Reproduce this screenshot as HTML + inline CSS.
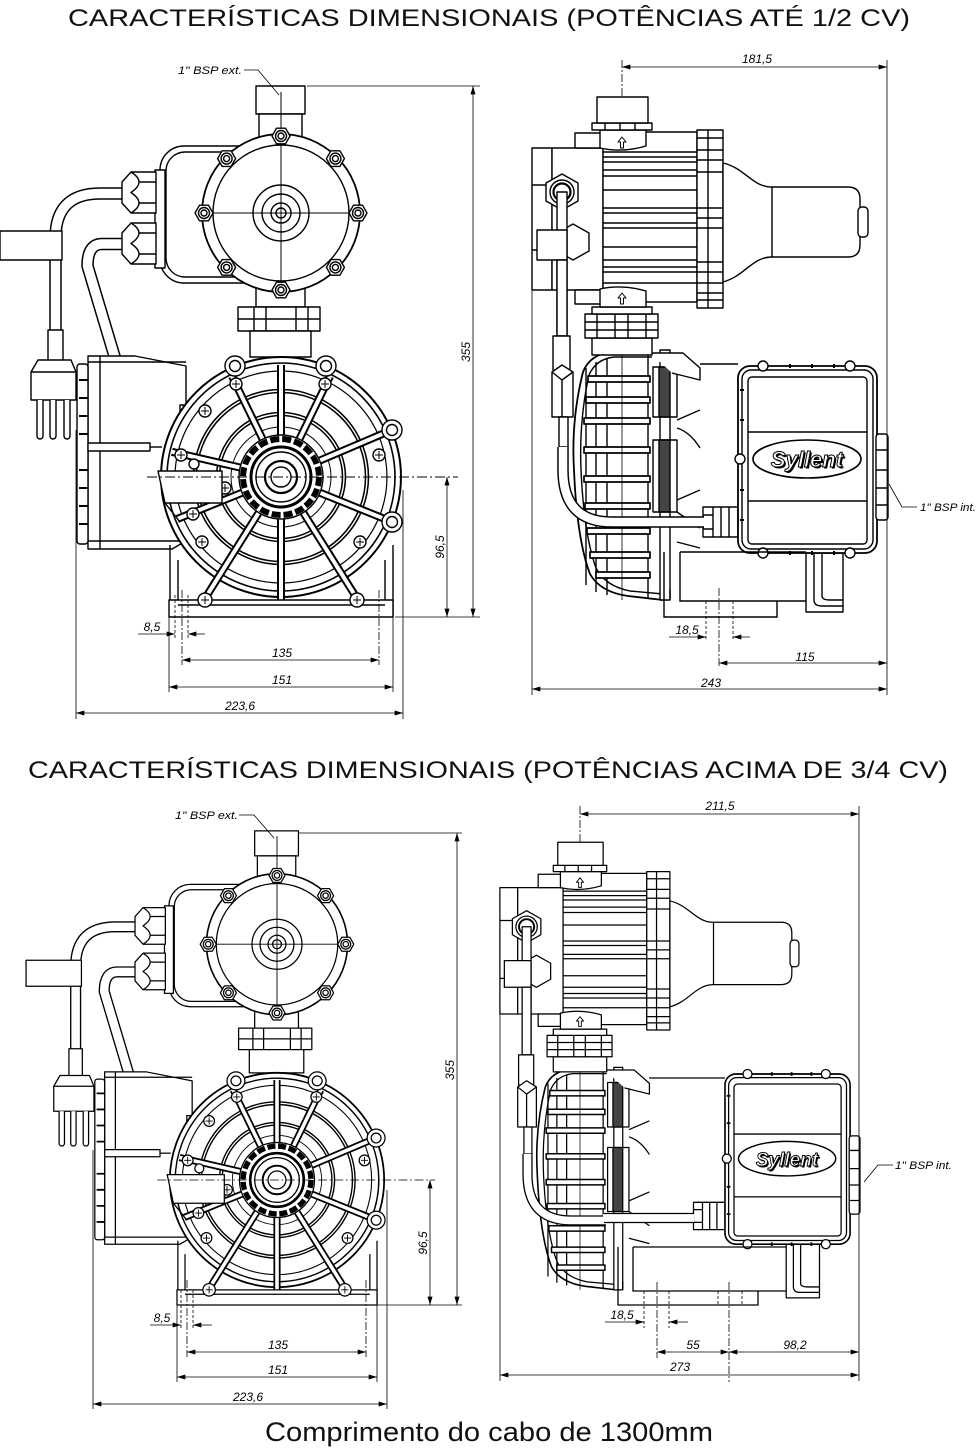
<!DOCTYPE html>
<html><head><meta charset="utf-8">
<style>
html,body{margin:0;padding:0;background:#fff;}
svg{display:block;}
text{font-family:"Liberation Sans",Arial,sans-serif;}
.d{font-size:12px;font-style:italic;fill:#000;stroke:none;}
.s{font-size:11px;font-style:italic;fill:#000;stroke:none;}
</style></head><body>
<svg width="977" height="1448" viewBox="0 0 977 1448" xmlns="http://www.w3.org/2000/svg">
<defs>
<marker id="ar" viewBox="0 0 10 6" refX="10" refY="3" markerWidth="9" markerHeight="5" markerUnits="userSpaceOnUse" orient="auto-start-reverse"><path d="M0,0L10,3L0,6z" fill="#000"/></marker>

<!-- FRONT VIEW -->
<g id="fv" fill="none" stroke="#000" stroke-width="1.4" stroke-linejoin="round">
<path d="M124,193.5H100Q55.5,193.5 55.5,238V332" stroke-width="12.5"/>
<path d="M124,193.5H100Q55.5,193.5 55.5,238V332" stroke="#fff" stroke-width="9.5"/>
<rect x="0" y="231" width="62" height="29" fill="#fff"/>
<rect x="48" y="330" width="15" height="32" fill="#fff"/>
<path d="M38,360H71L76,372V400H31V372Z" fill="#fff"/>
<path d="M31,372H76"/>
<path d="M37,400V436a3,3 0 0 0 6,0V400M50,400V436a3,3 0 0 0 6,0V400M64,400V436a3,3 0 0 0 6,0V400" fill="#fff"/>
<path d="M124,244H102Q87.5,244 87.5,266L115,358" stroke-width="12.5"/>
<path d="M124,244H102Q87.5,244 87.5,266L115,358" stroke="#fff" stroke-width="9.5"/>
<!-- head box -->
<rect x="160" y="146" width="160" height="137" rx="24" fill="#fff"/>
<rect x="166" y="152" width="150" height="125" rx="19"/>
<rect x="155" y="170" width="10" height="98" fill="#fff"/>
<!-- glands -->
<path d="M122,182L131,172H156V213H131L122,203Z" fill="#fff"/>
<path d="M131,172Q139,177 139,182Q139,187 131,192.5Q139,198 139,203Q139,208 131,213M139,182H156M139,203H156"/>
<path d="M122,233L131,223H156V264H131L122,254Z" fill="#fff"/>
<path d="M131,223Q139,228 139,233Q139,238 131,243.5Q139,249 139,254Q139,259 131,264M139,233H156M139,254H156"/>
<!-- pipe + neck -->
<rect x="256" y="86" width="49" height="28" fill="#fff"/>
<rect x="259" y="114" width="43" height="26" fill="#fff"/>
<rect x="256" y="284" width="49" height="23" fill="#fff"/>
<rect x="238" y="307" width="82" height="24" fill="#fff"/>
<path d="M238,319H320M254,307V331M266,307V331M296,307V331M308,307V331"/>
<rect x="250" y="331" width="61" height="26" fill="#fff"/>
<!-- head -->
<circle cx="281" cy="213" r="79" fill="#fff" stroke-width="1.8"/>
<circle cx="281" cy="213" r="68"/>
<circle cx="281" cy="213" r="28"/>
<circle cx="281" cy="213" r="19"/>
<circle cx="281" cy="213" r="10"/>
<circle cx="281" cy="213" r="5"/>
<path d="M205,213H357M281,92V290" stroke-width="1"/>
<g transform="translate(358,213)"><path d="M9,0L4.5,7.8H-4.5L-9,0L-4.5,-7.8H4.5Z" fill="#fff"/><circle r="5.5"/><circle r="3"/></g>
<g transform="translate(335.4,267.4)"><path d="M9,0L4.5,7.8H-4.5L-9,0L-4.5,-7.8H4.5Z" fill="#fff"/><circle r="5.5"/><circle r="3"/></g>
<g transform="translate(281,290)"><path d="M9,0L4.5,7.8H-4.5L-9,0L-4.5,-7.8H4.5Z" fill="#fff"/><circle r="5.5"/><circle r="3"/></g>
<g transform="translate(226.6,267.4)"><path d="M9,0L4.5,7.8H-4.5L-9,0L-4.5,-7.8H4.5Z" fill="#fff"/><circle r="5.5"/><circle r="3"/></g>
<g transform="translate(204,213)"><path d="M9,0L4.5,7.8H-4.5L-9,0L-4.5,-7.8H4.5Z" fill="#fff"/><circle r="5.5"/><circle r="3"/></g>
<g transform="translate(226.6,158.6)"><path d="M9,0L4.5,7.8H-4.5L-9,0L-4.5,-7.8H4.5Z" fill="#fff"/><circle r="5.5"/><circle r="3"/></g>
<g transform="translate(281,136)"><path d="M9,0L4.5,7.8H-4.5L-9,0L-4.5,-7.8H4.5Z" fill="#fff"/><circle r="5.5"/><circle r="3"/></g>
<g transform="translate(335.4,158.6)"><path d="M9,0L4.5,7.8H-4.5L-9,0L-4.5,-7.8H4.5Z" fill="#fff"/><circle r="5.5"/><circle r="3"/></g>
<!-- terminal box -->
<path d="M88,356H135L186,366V541L172,549H88Z" fill="#fff"/>
<rect x="77" y="364" width="11" height="180" rx="3" fill="#fff"/>
<path d="M100,356V549M88,362H186M88,541H180"/>
<path d="M79,380H88M79,398H88M79,416H88M79,434H88M79,470H88M79,488H88M79,506H88M79,524H88" stroke-width="2"/>
<rect x="88" y="443" width="62" height="8" fill="#fff"/>
<path d="M150,447H162"/>
<rect x="180" y="405" width="22" height="12" fill="#fff"/>
<!-- pump walls -->
<path d="M170,545V617M178,560V617M385,560V617M393,545V617"/>
<!-- pump -->
<circle cx="281" cy="477" r="120" fill="#fff" stroke-width="2"/>
<circle cx="281" cy="477" r="114" stroke-width="1.6"/>
<circle cx="281" cy="477" r="106" stroke-width="1.2"/>
<circle cx="281" cy="477" r="86" stroke-width="4.5"/>
<circle cx="281" cy="477" r="86" stroke="#fff" stroke-width="1.4"/>
<circle cx="281" cy="477" r="63" stroke-width="4.5"/>
<circle cx="281" cy="477" r="63" stroke="#fff" stroke-width="1.4"/>
<circle cx="281" cy="477" r="50" stroke-width="1"/>
<path d="M263.5,441L232,376.3M281,437V365M298.5,441L330,376.3M317.8,461.4L384.2,433.2M318.1,492L384.8,519M302.2,510.9L356.3,597.4M281,517V600M259.8,510.9L205.7,597.4M243.9,492L177.2,519M242,468L171.9,451.8" stroke-width="8"/>
<path d="M263.5,441L232,376.3M281,437V365M298.5,441L330,376.3M317.8,461.4L384.2,433.2M318.1,492L384.8,519M302.2,510.9L356.3,597.4M281,517V600M259.8,510.9L205.7,597.4M243.9,492L177.2,519M242,468L171.9,451.8" stroke="#fff" stroke-width="4"/>
<circle cx="281" cy="477" r="42" fill="#fff"/>
<circle cx="281" cy="477" r="38" stroke-width="6" stroke-dasharray="9 3"/>
<circle cx="281" cy="477" r="30" fill="#fff" stroke-width="3"/>
<circle cx="281" cy="477" r="25"/>
<circle cx="281" cy="477" r="16" stroke-width="2.2"/>
<circle cx="281" cy="477" r="10"/>
<!-- lugs -->
<circle cx="235" cy="366" r="10" fill="#fff"/>
<circle cx="326" cy="366" r="10" fill="#fff"/>
<circle cx="392" cy="430" r="10" fill="#fff"/>
<circle cx="392" cy="522" r="10" fill="#fff"/>
<!-- base -->
<rect x="169" y="600" width="224" height="17" fill="#fff"/>
<path d="M178,605H385"/>
<!-- bolts -->
<g fill="#fff">
<circle cx="235" cy="366" r="5.5"/><circle cx="236" cy="384" r="6"/><circle cx="326" cy="366" r="5.5"/><circle cx="325" cy="384" r="6"/>
<circle cx="205" cy="411" r="6"/><circle cx="392" cy="430" r="5.5"/><circle cx="379" cy="455" r="6"/><circle cx="181" cy="455" r="6"/>
<circle cx="194" cy="464" r="5"/><circle cx="225" cy="488" r="6"/><circle cx="193" cy="514" r="6"/><circle cx="392" cy="522" r="5.5"/>
<circle cx="202" cy="542" r="6"/><circle cx="360" cy="542" r="6"/><circle cx="205" cy="600" r="7"/><circle cx="357" cy="600" r="7"/>
</g>
<path d="M232,384h8M236,380v8M321,384h8M325,380v8M201,411h8M205,407v8M375,455h8M379,451v8M177,455h8M181,451v8M221,488h8M225,484v8M189,514h8M193,510v8M198,542h8M202,538v8M356,542h8M360,538v8M201,600h8M205,596v8M353,600h8M357,596v8" stroke-width="1"/>
<!-- inlet window -->
<path d="M158,471H222V503H165Z" fill="#fff"/>
<path d="M165,503L180,522"/>
<path d="M147,477H458" stroke-width="0.9" stroke-dasharray="10 3 2 3"/>
</g>

<!-- SIDE VIEW -->
<g id="sv" fill="none" stroke="#000" stroke-width="1.4" stroke-linejoin="round">
<path d="M652,352H612Q590,354 583,372Q571,420 574,470Q577,540 590,574Q600,592 628,596L663,600" fill="#fff" stroke-width="1.8"/>
<path d="M652,357H614Q596,359 589,375Q579,420 581,470Q584,535 596,568Q605,586 630,591L663,594"/>
<path d="M586,368V585M596,362V592M607,358V595M648,355V598"/>
<g fill="#fff" stroke-width="1.7">
<rect x="588" y="376" width="62" height="6"/><rect x="586" y="397" width="64" height="6"/><rect x="584" y="418" width="66" height="6"/>
<rect x="584" y="447" width="66" height="6"/><rect x="584" y="476" width="66" height="6"/><rect x="585" y="503" width="65" height="6"/>
<rect x="587" y="528" width="63" height="6"/><rect x="590" y="552" width="60" height="6"/><rect x="596" y="572" width="54" height="6"/>
</g>
<rect x="660" y="350" width="10" height="250" fill="#fff"/>
<rect x="653" y="367" width="24" height="50" fill="#fff"/><rect x="659" y="367" width="11" height="50" fill="#444"/>
<rect x="653" y="440" width="24" height="72" fill="#fff"/><rect x="659" y="440" width="11" height="72" fill="#444"/>
<path d="M650,353H683L700,368V380L672,373" fill="#fff"/>
<path d="M677,420L700,410M677,428Q690,432 700,448M677,500L700,490M677,512L700,528M677,542L700,548M670,600V590"/>
<path d="M622,355V600" stroke-width="0.8"/>
<!-- union -->
<rect x="592" y="338" width="60" height="17" fill="#fff"/>
<rect x="585" y="314" width="73" height="24" fill="#fff"/>
<path d="M585,322H658M585,330H658M597,314V338M615,314V338M628,314V338M646,314V338"/>
<rect x="592" y="307" width="60" height="7" fill="#fff"/>
<!-- pressure switch -->
<rect x="532" y="148" width="20" height="142" fill="#fff"/>
<rect x="552" y="148" width="51" height="142" fill="#fff"/>
<path d="M532,185H552M532,250H552"/>
<rect x="575" y="133" width="28" height="15" fill="#fff"/>
<rect x="575" y="290" width="28" height="14" fill="#fff"/>
<rect x="603" y="132" width="94" height="170" fill="#fff"/>
<path d="M603,152H697M603,157H697M603,162H697M603,170H697M603,176H697M603,190H697M603,208H697M603,213H697M603,223H697M603,228H697M603,247H697M603,260H697M603,267H697M603,272H697M603,283H697"/>
<path d="M600,130H646V146Q622,153 600,148Z" fill="#fff"/>
<path d="M600,307H646V291Q622,284 600,289Z" fill="#fff"/>
<rect x="592" y="123" width="60" height="7" fill="#fff"/>
<path d="M605,123V130M620,123V130M635,123V130"/>
<rect x="597" y="97" width="51" height="26" fill="#fff"/>
<path d="M622,137l-4,5h2.5v6h3v-6h2.5z M622,293l-4,5h2.5v6h3v-6h2.5z" stroke-width="1"/>
<rect x="697" y="130" width="26" height="178" fill="#fff"/>
<path d="M697,138H723M697,150H723M697,160H723M697,172H723M697,208H723M697,218H723M697,228H723M697,262H723M697,272H723M697,283H723M697,293H723M697,300H723M708,130V308"/>
<path d="M723,163C745,168 752,187 772,187H848Q860,187 860,199V245Q860,257 848,257H772C752,257 745,276 723,282Z" fill="#fff"/>
<path d="M772,187V257"/>
<rect x="858" y="207" width="10" height="30" rx="4" fill="#fff"/>
<!-- nuts & cable -->
<path d="M573,224L589,233V251L573,260L557,251V233Z" fill="#fff"/>
<path d="M562,174L578,183V201L562,210L546,201V183Z" fill="#fff"/>
<circle cx="562" cy="192" r="12" fill="#fff"/>
<circle cx="562" cy="192" r="8.5" fill="#fff" stroke-width="2.2"/>
<rect x="557" y="192" width="10" height="144" fill="#fff"/>
<rect x="537" y="230" width="30" height="30" fill="#fff"/>
<rect x="557" y="260" width="10" height="76" fill="#fff"/>
<rect x="553" y="336" width="17" height="34" fill="#fff"/>
<path d="M552,372L562,365L573,372V417H552Z" fill="#fff"/>
<path d="M552,372L562,380L573,372M562,380V417"/>
<rect x="559" y="417" width="9" height="30" fill="#fff"/>
<path d="M563,447V470Q563,522 612,522H651" stroke-width="11.5"/>
<path d="M563,447V470Q563,522 612,522H651" stroke="#fff" stroke-width="8.6"/>
</g>

<!-- MOTOR BOX -->
<g id="mb" fill="none" stroke="#000" stroke-width="1.4" stroke-linejoin="round">
<rect x="806" y="553" width="37" height="59" fill="#fff"/>
<path d="M814,553V600Q814,606 822,606H843M822,553V596Q822,600 830,600H843"/>
<rect x="703" y="507" width="35" height="30" fill="#fff"/>
<path d="M713,507V537M721,507V537M729,507V537M703,515H713M703,529H713"/>
<rect x="738" y="366" width="139" height="187" rx="12" fill="#fff" stroke-width="1.8"/>
<rect x="742" y="370" width="131" height="179" rx="9"/>
<rect x="748" y="377" width="119" height="167" rx="4"/>
<path d="M748,432H867M748,501H867"/>
<rect x="876" y="434" width="12" height="86" rx="3" fill="#fff"/>
<path d="M876,450H888M876,470H888M876,488H888M876,505H888"/>
<g fill="#fff"><circle cx="763" cy="366" r="5"/><circle cx="850" cy="366" r="5"/><circle cx="763" cy="553" r="5"/><circle cx="850" cy="553" r="5"/><circle cx="740" cy="459" r="5"/></g>
<path d="M790,364v4M812,364v4M834,364v4M790,551v4M812,551v4M834,551v4M740,390h4M740,420h4M740,490h4M740,520h4" stroke-width="2"/>
<ellipse cx="807" cy="459" rx="54" ry="19" fill="#fff" stroke-width="1.6"/>
</g>
</defs>

<!-- TITLES -->
<text x="68" y="26" font-size="24" fill="#111" textLength="842" lengthAdjust="spacingAndGlyphs">CARACTERÍSTICAS DIMENSIONAIS (POTÊNCIAS ATÉ 1/2 CV)</text>
<text x="28" y="778" font-size="24" fill="#111" textLength="920" lengthAdjust="spacingAndGlyphs">CARACTERÍSTICAS DIMENSIONAIS (POTÊNCIAS ACIMA DE 3/4 CV)</text>
<text x="265" y="1441" font-size="27" fill="#111" textLength="448" lengthAdjust="spacingAndGlyphs">Comprimento do cabo de 1300mm</text>

<!-- ===== TOP LEFT ===== -->
<use href="#fv"/>
<g fill="none" stroke="#000" stroke-width="0.8">
<path d="M244,70H258L279,95"/>
<path d="M307,86H480M395,617H480"/>
<path d="M473,86V617" marker-start="url(#ar)" marker-end="url(#ar)"/>
<path d="M447,477V617" marker-start="url(#ar)" marker-end="url(#ar)"/>
<path d="M76,430V719M403,490V719M169,617V692M393,617V692"/>
<path d="M182,590V665M379,590V665" stroke-dasharray="8 2 2 2"/>
<path d="M175,595V640M188,595V640" stroke-dasharray="3 2"/>
<path d="M138,634H175" marker-end="url(#ar)"/>
<path d="M205,634H188" marker-end="url(#ar)"/>
<path d="M182,660H379" marker-start="url(#ar)" marker-end="url(#ar)"/>
<path d="M169,687H393" marker-start="url(#ar)" marker-end="url(#ar)"/>
<path d="M76,713H403" marker-start="url(#ar)" marker-end="url(#ar)"/>
</g>
<text class="s" x="178" y="74" textLength="64" lengthAdjust="spacingAndGlyphs">1" BSP ext.</text>
<text class="d" transform="translate(470,352) rotate(-90)" text-anchor="middle">355</text>
<text class="d" transform="translate(444,547) rotate(-90)" text-anchor="middle">96,5</text>
<text class="d" x="152" y="631" text-anchor="middle">8,5</text>
<text class="d" x="282" y="657" text-anchor="middle">135</text>
<text class="d" x="282" y="684" text-anchor="middle">151</text>
<text class="d" x="240" y="710" text-anchor="middle">223,6</text>

<!-- ===== TOP RIGHT ===== -->
<use href="#sv"/>
<use href="#mb"/>
<g fill="none" stroke="#000" stroke-width="1.4">
<path d="M700,364H738"/>
<path d="M651,522H704" stroke-width="11.5"/>
<path d="M650,522H704" stroke="#fff" stroke-width="8.6"/>
<path d="M664,552V617H777V601H680V552M680,552H806M777,601H806"/>
</g>
<text x="808.5" y="468.5" text-anchor="middle" font-size="22" font-weight="bold" font-style="italic" fill="#000">Syllent</text>
<text x="807" y="467" text-anchor="middle" font-size="22" font-weight="bold" font-style="italic" fill="#fff" stroke="#000" stroke-width="1">Syllent</text>
<g fill="none" stroke="#000" stroke-width="0.8">
<path d="M622,60V97" stroke-dasharray="8 2 2 2"/>
<path d="M622,67H887" marker-start="url(#ar)" marker-end="url(#ar)"/>
<path d="M887,60V695M532,290V695"/>
<path d="M706,601V640M733,601V640" stroke-dasharray="3 2"/>
<path d="M719,588V668" stroke-dasharray="8 2 2 2"/>
<path d="M669,637H706" marker-end="url(#ar)"/>
<path d="M750,637H733" marker-end="url(#ar)"/>
<path d="M719,663H887" marker-start="url(#ar)" marker-end="url(#ar)"/>
<path d="M532,689H887" marker-start="url(#ar)" marker-end="url(#ar)"/>
<path d="M917,507H902L889,484"/>
</g>
<text class="d" x="757" y="63" text-anchor="middle">181,5</text>
<text class="d" x="687" y="634" text-anchor="middle">18,5</text>
<text class="d" x="805" y="661" text-anchor="middle">115</text>
<text class="d" x="711" y="687" text-anchor="middle">243</text>
<text class="s" x="920" y="511" textLength="56" lengthAdjust="spacingAndGlyphs">1" BSP int.</text>

<!-- ===== BOTTOM LEFT ===== -->
<use href="#fv" transform="translate(277,1305) scale(0.893) translate(-281,-617)"/>
<g fill="none" stroke="#000" stroke-width="0.8">
<path d="M239,815H254L274,838"/>
<path d="M298,833H462M377,1305H462"/>
<path d="M457,833V1305" marker-start="url(#ar)" marker-end="url(#ar)"/>
<path d="M430,1180V1305" marker-start="url(#ar)" marker-end="url(#ar)"/>
<path d="M93,1150V1409M387,1190V1409M177,1305V1382M377,1305V1382"/>
<path d="M187,1280V1357M366,1280V1357" stroke-dasharray="8 2 2 2"/>
<path d="M181,1290V1330M193,1290V1330" stroke-dasharray="3 2"/>
<path d="M150,1325H181" marker-end="url(#ar)"/>
<path d="M212,1325H193" marker-end="url(#ar)"/>
<path d="M187,1352H366" marker-start="url(#ar)" marker-end="url(#ar)"/>
<path d="M177,1377H377" marker-start="url(#ar)" marker-end="url(#ar)"/>
<path d="M93,1404H387" marker-start="url(#ar)" marker-end="url(#ar)"/>
</g>
<text class="s" x="175" y="819" textLength="63" lengthAdjust="spacingAndGlyphs">1" BSP ext.</text>
<text class="d" transform="translate(454,1070) rotate(-90)" text-anchor="middle">355</text>
<text class="d" transform="translate(427,1243) rotate(-90)" text-anchor="middle">96,5</text>
<text class="d" x="162" y="1322" text-anchor="middle">8,5</text>
<text class="d" x="278" y="1349" text-anchor="middle">135</text>
<text class="d" x="278" y="1374" text-anchor="middle">151</text>
<text class="d" x="248" y="1401" text-anchor="middle">223,6</text>

<!-- ===== BOTTOM RIGHT ===== -->
<use href="#sv" transform="translate(580,1305) scale(0.89) translate(-622,-617)"/>
<use href="#mb" transform="translate(725,1074) scale(0.9,0.91) translate(-738,-366)"/>
<g fill="none" stroke="#000" stroke-width="1.3">
<path d="M649,1078H725"/>
<path d="M604,1218H694" stroke-width="10.3"/>
<path d="M603,1218H694" stroke="#fff" stroke-width="7.7"/>
<path d="M618,1247V1305H758V1291H633V1247M633,1247H786M758,1291H786"/>
</g>
<text x="788.3" y="1167.3" text-anchor="middle" font-size="19" font-weight="bold" font-style="italic" fill="#000">Syllent</text>
<text x="787" y="1166" text-anchor="middle" font-size="19" font-weight="bold" font-style="italic" fill="#fff" stroke="#000" stroke-width="0.9">Syllent</text>
<g fill="none" stroke="#000" stroke-width="0.8">
<path d="M580,806V842" stroke-dasharray="8 2 2 2"/>
<path d="M580,814H859" marker-start="url(#ar)" marker-end="url(#ar)"/>
<path d="M859,806V1381M500,1014V1381"/>
<path d="M644,1291V1328M669,1291V1328M718,1291V1305M742,1291V1305" stroke-dasharray="3 2"/>
<path d="M657,1282V1358M729,1282V1382" stroke-dasharray="8 2 2 2"/>
<path d="M605,1322H644" marker-end="url(#ar)"/>
<path d="M688,1322H669" marker-end="url(#ar)"/>
<path d="M657,1352H729" marker-start="url(#ar)" marker-end="url(#ar)"/>
<path d="M729,1352H859" marker-start="url(#ar)" marker-end="url(#ar)"/>
<path d="M500,1375H859" marker-start="url(#ar)" marker-end="url(#ar)"/>
<path d="M893,1165H878L864,1182"/>
</g>
<text class="d" x="720" y="810" text-anchor="middle">211,5</text>
<text class="d" x="622" y="1319" text-anchor="middle">18,5</text>
<text class="d" x="693" y="1349" text-anchor="middle">55</text>
<text class="d" x="795" y="1349" text-anchor="middle">98,2</text>
<text class="d" x="680" y="1371" text-anchor="middle">273</text>
<text class="s" x="895" y="1169" textLength="57" lengthAdjust="spacingAndGlyphs">1" BSP int.</text>
</svg>
</body></html>
